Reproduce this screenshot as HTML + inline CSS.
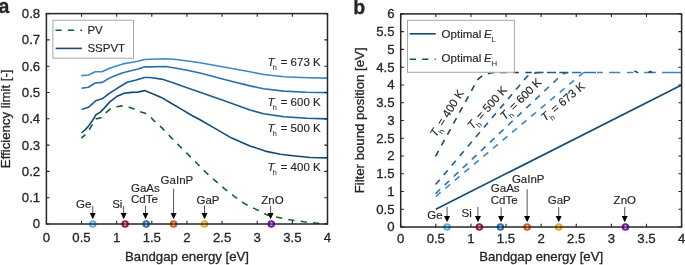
<!DOCTYPE html>
<html><head><meta charset="utf-8"><style>
html,body{margin:0;padding:0;background:#fff;width:685px;height:265px;overflow:hidden}
svg{display:block;will-change:transform}
text{font-family:"Liberation Sans", sans-serif;fill:#262626;stroke:#262626;stroke-width:0.3px}
.s{stroke-width:0.15px}
</style></head><body>
<svg width="685" height="265" viewBox="0 0 685 265">
<rect width="685" height="265" fill="#fff"/>
<path d="M81.40,75.60 L88.40,75.00 L95.20,71.80 L102.40,71.60 L109.70,68.20 L115.00,66.50 L122.90,63.90 L130.90,62.50 L137.70,61.30 L144.50,59.50 L150.00,59.20 L165.80,58.70 L176.40,59.50 L189.60,61.20 L200.00,62.80 L250.00,71.80 L263.60,74.50 L284.00,76.80 L306.70,77.70 L327.50,78.10" stroke="#3d87c6" stroke-width="1.60" fill="none" stroke-linejoin="round"/>
<path d="M81.40,88.30 L88.40,87.20 L95.20,83.00 L102.40,82.40 L109.70,77.90 L115.00,75.80 L122.90,72.70 L130.90,70.70 L138.20,69.00 L144.50,66.70 L150.00,66.90 L165.80,66.50 L176.40,68.20 L189.60,70.80 L200.00,73.00 L226.40,80.00 L250.00,85.90 L263.60,88.80 L284.00,91.10 L306.70,92.20 L327.50,92.60" stroke="#2b70ad" stroke-width="1.60" fill="none" stroke-linejoin="round"/>
<path d="M81.60,109.50 L88.40,107.30 L95.90,100.70 L102.50,98.60 L109.10,93.50 L118.00,87.80 L127.10,82.30 L136.20,80.00 L144.50,77.50 L150.00,77.50 L163.20,79.40 L174.50,83.20 L187.70,87.90 L200.00,92.20 L225.10,101.10 L250.00,110.00 L263.60,113.70 L284.00,116.70 L306.70,118.30 L327.50,118.90" stroke="#1d5b8e" stroke-width="1.60" fill="none" stroke-linejoin="round"/>
<path d="M81.60,133.00 L87.70,127.10 L92.50,120.50 L95.90,114.80 L100.00,112.40 L104.50,107.90 L109.80,101.90 L116.60,96.60 L124.10,93.30 L131.70,92.40 L137.70,92.10 L144.50,90.60 L151.30,93.30 L161.30,97.40 L170.80,103.00 L182.10,109.60 L191.50,115.30 L200.00,119.80 L215.80,128.90 L231.70,138.10 L250.00,145.90 L265.10,151.10 L280.20,154.20 L295.30,156.00 L310.40,157.50 L327.50,157.90" stroke="#144a72" stroke-width="1.60" fill="none" stroke-linejoin="round"/>
<path d="M81.40,138.10 L85.60,134.30 L89.60,129.00 L92.50,124.20 L95.90,118.90 L101.50,117.60 L106.40,112.30 L110.30,109.00 L115.80,106.80 L122.60,105.90 L128.60,107.10 L134.70,109.40 L140.00,111.70 L145.20,113.20 L150.50,117.00 L153.40,120.20 L161.90,127.85 L170.95,137.40 L179.20,145.75 L188.15,154.50 L196.75,163.20 L205.70,172.25 L215.10,180.60 L224.65,188.90 L234.25,196.30 L244.50,203.65 L256.10,209.35 L266.70,214.85 L278.60,217.50 L291.10,220.00 L303.40,221.70 L315.60,223.10 L327.50,223.70" stroke="#0d6130" stroke-width="1.60" fill="none" stroke-dasharray="6.3 6.15" stroke-dashoffset="1"/>
<text x="267.40" y="66.10" font-size="11.5" font-style="italic" class="s">T</text>
<text x="272.50" y="70.10" font-size="7.8" style="stroke:none">h</text>
<text x="280.70" y="66.10" font-size="11.5" class="s">= 673 K</text>
<text x="267.40" y="106.00" font-size="11.5" font-style="italic" class="s">T</text>
<text x="272.50" y="110.00" font-size="7.8" style="stroke:none">h</text>
<text x="280.70" y="106.00" font-size="11.5" class="s">= 600 K</text>
<text x="267.40" y="132.10" font-size="11.5" font-style="italic" class="s">T</text>
<text x="272.50" y="136.10" font-size="7.8" style="stroke:none">h</text>
<text x="280.70" y="132.10" font-size="11.5" class="s">= 500 K</text>
<text x="267.40" y="171.00" font-size="11.5" font-style="italic" class="s">T</text>
<text x="272.50" y="175.00" font-size="7.8" style="stroke:none">h</text>
<text x="280.70" y="171.00" font-size="11.5" class="s">= 400 K</text>
<path d="M92.78 206.00V213.60" stroke="#1a1a1a" stroke-width="0.75"/>
<path d="M89.78 213.10L95.78 213.10L92.78 219.20Z" fill="#000"/>
<text x="76.00" y="207.80" font-size="11.5" class="s" text-anchor="start">Ge</text>
<path d="M123.70 206.00V213.60" stroke="#1a1a1a" stroke-width="0.75"/>
<path d="M120.70 213.10L126.70 213.10L123.70 219.20Z" fill="#000"/>
<text x="112.20" y="207.80" font-size="11.5" class="s" text-anchor="start">Si</text>
<path d="M145.49 205.80V213.60" stroke="#1a1a1a" stroke-width="0.75"/>
<path d="M142.49 213.10L148.49 213.10L145.49 219.20Z" fill="#000"/>
<text x="131.00" y="192.10" font-size="11.5" class="s" text-anchor="start">GaAs</text>
<text x="131.00" y="203.40" font-size="11.5" class="s" text-anchor="start">CdTe</text>
<path d="M173.60 188.70V213.60" stroke="#1a1a1a" stroke-width="0.75"/>
<path d="M170.60 213.10L176.60 213.10L173.60 219.20Z" fill="#000"/>
<text x="160.60" y="184.00" font-size="11.5" class="s" text-anchor="start">GaInP</text>
<path d="M204.52 205.60V213.60" stroke="#1a1a1a" stroke-width="0.75"/>
<path d="M201.52 213.10L207.52 213.10L204.52 219.20Z" fill="#000"/>
<text x="208.00" y="204.00" font-size="11.5" class="s" text-anchor="middle">GaP</text>
<path d="M270.58 205.80V213.60" stroke="#1a1a1a" stroke-width="0.75"/>
<path d="M267.58 213.10L273.58 213.10L270.58 219.20Z" fill="#000"/>
<text x="272.50" y="203.90" font-size="11.5" class="s" text-anchor="middle">ZnO</text>
<circle cx="92.78" cy="224.00" r="2.7" stroke="#52b6e6" stroke-width="2.1" fill="none"/>
<circle cx="125.11" cy="224.00" r="2.7" stroke="#b3113b" stroke-width="2.1" fill="none"/>
<circle cx="146.19" cy="224.00" r="2.7" stroke="#1a72c2" stroke-width="2.1" fill="none"/>
<circle cx="173.60" cy="224.00" r="2.7" stroke="#e2580e" stroke-width="2.1" fill="none"/>
<circle cx="204.52" cy="224.00" r="2.7" stroke="#efa912" stroke-width="2.1" fill="none"/>
<circle cx="271.28" cy="224.00" r="2.7" stroke="#7b10b5" stroke-width="2.1" fill="none"/>
<rect x="52.9" y="20.2" width="80.6" height="38.0" fill="#fff" stroke="#a8a8a8" stroke-width="1"/>
<path d="M55.4 30.3H82" stroke="#0d6130" stroke-width="1.60" stroke-dasharray="6.3 6.15"/>
<path d="M55.6 48.4H81.9" stroke="#144a72" stroke-width="1.60"/>
<text x="87.4" y="33.9" font-size="11.5" class="s">PV</text>
<text x="87.4" y="52.0" font-size="11.5" class="s">SSPVT</text>
<path d="M46.40 224.00V220.80M46.40 13.60V16.80M81.54 224.00V220.80M81.54 13.60V16.80M116.68 224.00V220.80M116.68 13.60V16.80M151.81 224.00V220.80M151.81 13.60V16.80M186.95 224.00V220.80M186.95 13.60V16.80M222.09 224.00V220.80M222.09 13.60V16.80M257.23 224.00V220.80M257.23 13.60V16.80M292.36 224.00V220.80M292.36 13.60V16.80M327.50 224.00V220.80M327.50 13.60V16.80M46.40 224.00H49.60M327.50 224.00H324.30M46.40 197.70H49.60M327.50 197.70H324.30M46.40 171.40H49.60M327.50 171.40H324.30M46.40 145.10H49.60M327.50 145.10H324.30M46.40 118.80H49.60M327.50 118.80H324.30M46.40 92.50H49.60M327.50 92.50H324.30M46.40 66.20H49.60M327.50 66.20H324.30M46.40 39.90H49.60M327.50 39.90H324.30M46.40 13.60H49.60M327.50 13.60H324.30" stroke="#262626" stroke-width="1.1" fill="none"/>
<rect x="46.40" y="13.60" width="281.10" height="210.40" stroke="#262626" stroke-width="1.5" fill="none"/>
<text x="46.40" y="241.50" text-anchor="middle" font-size="13.2">0</text>
<text x="81.54" y="241.50" text-anchor="middle" font-size="13.2">0.5</text>
<text x="116.68" y="241.50" text-anchor="middle" font-size="13.2">1</text>
<text x="151.81" y="241.50" text-anchor="middle" font-size="13.2">1.5</text>
<text x="186.95" y="241.50" text-anchor="middle" font-size="13.2">2</text>
<text x="222.09" y="241.50" text-anchor="middle" font-size="13.2">2.5</text>
<text x="257.23" y="241.50" text-anchor="middle" font-size="13.2">3</text>
<text x="292.36" y="241.50" text-anchor="middle" font-size="13.2">3.5</text>
<text x="327.50" y="241.50" text-anchor="middle" font-size="13.2">4</text>
<text x="40.20" y="228.40" text-anchor="end" font-size="13.2">0</text>
<text x="40.20" y="202.10" text-anchor="end" font-size="13.2">0.1</text>
<text x="40.20" y="175.80" text-anchor="end" font-size="13.2">0.2</text>
<text x="40.20" y="149.50" text-anchor="end" font-size="13.2">0.3</text>
<text x="40.20" y="123.20" text-anchor="end" font-size="13.2">0.4</text>
<text x="40.20" y="96.90" text-anchor="end" font-size="13.2">0.5</text>
<text x="40.20" y="70.60" text-anchor="end" font-size="13.2">0.6</text>
<text x="40.20" y="44.30" text-anchor="end" font-size="13.2">0.7</text>
<text x="40.20" y="18.00" text-anchor="end" font-size="13.2">0.8</text>
<text transform="translate(9.8,118.8) rotate(-90)" text-anchor="middle" font-size="13.2">Efficiency limit [-]</text>
<text x="187" y="261.2" text-anchor="middle" font-size="13.2">Bandgap energy [eV]</text>
<text x="-1.4" y="12.9" font-size="19.5" font-weight="bold" fill="#000">a</text>
<path d="M435.5,156.4 L476.5,81.6 C479,77 484,73.8 494,72.50" stroke="#144a72" stroke-width="1.60" fill="none" stroke-dasharray="6.3 6.15"/>
<path d="M435.6,184.5 L526,77.7 Q530.4,72.6 541,72.50" stroke="#1d5b8e" stroke-width="1.60" fill="none" stroke-dasharray="6.3 6.15"/>
<path d="M435.6,193.6 L560,76.3 Q563.7,72.6 568.3,72.50" stroke="#2b70ad" stroke-width="1.60" fill="none" stroke-dasharray="6.3 6.15"/>
<path d="M435.8,196.5 L580,75.4 Q583.2,72.6 584,72.50" stroke="#3d87c6" stroke-width="1.60" fill="none" stroke-dasharray="6.3 6.15"/>
<path d="M500.0 72.50H506.9M512.9 72.50H518.9M525.3 72.50H531.7" stroke="#144a72" stroke-width="1.60" fill="none"/>
<path d="M535.0 72.50H543.6M546.9 72.50H556.1M559.3 72.50H568.3" stroke="#1d5b8e" stroke-width="1.60" fill="none"/>
<path d="M571.9 72.50H581.2M583.8 72.50H596.0" stroke="#2b70ad" stroke-width="1.60" fill="none"/>
<path d="M597.0 72.50H602.9M609.1 72.50H620.3M626.9 72.50H633.4M644.0 72.50H656.1M662.1 72.50H681.4" stroke="#3d87c6" stroke-width="1.60" fill="none"/>
<path d="M634.3 70.9L638.1 72.8M648.6 72.6L650.4 71.4L652.4 72.6" stroke="#144a72" stroke-width="1.60" fill="none"/>
<path d="M435.81 209.24L681.60 84.93" stroke="#144a72" stroke-width="1.60"/>
<g transform="translate(435.99,137.71) rotate(-57.60)">
<text x="0" y="0" font-size="11.5" font-style="italic" class="s">T</text>
<text x="6.0" y="4.0" font-size="7.8" style="stroke:none">h</text>
<text x="12.9" y="0" font-size="11.5" class="s">= 400 K</text>
</g>
<g transform="translate(472.61,130.11) rotate(-48.50)">
<text x="0" y="0" font-size="11.5" font-style="italic" class="s">T</text>
<text x="6.0" y="4.0" font-size="7.8" style="stroke:none">h</text>
<text x="12.9" y="0" font-size="11.5" class="s">= 500 K</text>
</g>
<g transform="translate(504.76,120.42) rotate(-44.90)">
<text x="0" y="0" font-size="11.5" font-style="italic" class="s">T</text>
<text x="6.0" y="4.0" font-size="7.8" style="stroke:none">h</text>
<text x="12.9" y="0" font-size="11.5" class="s">= 600 K</text>
</g>
<g transform="translate(545.10,121.68) rotate(-40.05)">
<text x="0" y="0" font-size="11.5" font-style="italic" class="s">T</text>
<text x="6.0" y="4.0" font-size="7.8" style="stroke:none">h</text>
<text x="12.9" y="0" font-size="11.5" class="s">= 673 K</text>
</g>
<path d="M447.05 206.90V216.60" stroke="#1a1a1a" stroke-width="0.75"/>
<path d="M444.05 216.10L450.05 216.10L447.05 222.20Z" fill="#000"/>
<text x="427.20" y="218.80" font-size="11.5" class="s" text-anchor="start">Ge</text>
<path d="M477.95 206.90V216.60" stroke="#1a1a1a" stroke-width="0.75"/>
<path d="M474.95 216.10L480.95 216.10L477.95 222.20Z" fill="#000"/>
<text x="461.60" y="217.10" font-size="11.5" class="s" text-anchor="start">Si</text>
<path d="M501.12 207.30V216.60" stroke="#1a1a1a" stroke-width="0.75"/>
<path d="M498.12 216.10L504.12 216.10L501.12 222.20Z" fill="#000"/>
<text x="490.80" y="191.90" font-size="11.5" class="s" text-anchor="start">GaAs</text>
<text x="490.80" y="203.90" font-size="11.5" class="s" text-anchor="start">CdTe</text>
<path d="M527.11 189.20V216.60" stroke="#1a1a1a" stroke-width="0.75"/>
<path d="M524.11 216.10L530.11 216.10L527.11 222.20Z" fill="#000"/>
<text x="511.90" y="182.90" font-size="11.5" class="s" text-anchor="start">GaInP</text>
<path d="M558.71 207.10V216.60" stroke="#1a1a1a" stroke-width="0.75"/>
<path d="M555.71 216.10L561.71 216.10L558.71 222.20Z" fill="#000"/>
<text x="559.30" y="203.90" font-size="11.5" class="s" text-anchor="middle">GaP</text>
<path d="M624.72 207.10V216.60" stroke="#1a1a1a" stroke-width="0.75"/>
<path d="M621.72 216.10L627.72 216.10L624.72 222.20Z" fill="#000"/>
<text x="624.80" y="203.90" font-size="11.5" class="s" text-anchor="middle">ZnO</text>
<circle cx="447.05" cy="227.00" r="2.7" stroke="#52b6e6" stroke-width="2.1" fill="none"/>
<circle cx="479.35" cy="227.00" r="2.7" stroke="#b3113b" stroke-width="2.1" fill="none"/>
<circle cx="500.42" cy="227.00" r="2.7" stroke="#1a72c2" stroke-width="2.1" fill="none"/>
<circle cx="527.11" cy="227.00" r="2.7" stroke="#e2580e" stroke-width="2.1" fill="none"/>
<circle cx="558.71" cy="227.00" r="2.7" stroke="#efa912" stroke-width="2.1" fill="none"/>
<circle cx="625.42" cy="227.00" r="2.7" stroke="#7b10b5" stroke-width="2.1" fill="none"/>
<rect x="407.5" y="20.3" width="106.9" height="52.0" fill="#fff" stroke="#a8a8a8" stroke-width="1"/>
<path d="M409.7 33.8H435.7" stroke="#144a72" stroke-width="1.60"/>
<path d="M409.7 59.2H435.7" stroke="#144a72" stroke-width="1.60" stroke-dasharray="6.3 6.15"/>
<text x="441.6" y="38.00" font-size="11.5" class="s">Optimal</text>
<text x="484.0" y="38.00" font-size="11.5" class="s" font-style="italic">E</text>
<text x="491.4" y="42.00" font-size="7.8" style="stroke:none">L</text>
<text x="441.6" y="61.70" font-size="11.5" class="s">Optimal</text>
<text x="484.0" y="61.70" font-size="11.5" class="s" font-style="italic">E</text>
<text x="491.4" y="65.70" font-size="7.8" style="stroke:none">H</text>
<path d="M400.70 227.00V223.80M400.70 13.90V17.10M435.81 227.00V223.80M435.81 13.90V17.10M470.93 227.00V223.80M470.93 13.90V17.10M506.04 227.00V223.80M506.04 13.90V17.10M541.15 227.00V223.80M541.15 13.90V17.10M576.26 227.00V223.80M576.26 13.90V17.10M611.38 227.00V223.80M611.38 13.90V17.10M646.49 227.00V223.80M646.49 13.90V17.10M681.60 227.00V223.80M681.60 13.90V17.10M400.70 227.00H403.90M681.60 227.00H678.40M400.70 209.24H403.90M681.60 209.24H678.40M400.70 191.48H403.90M681.60 191.48H678.40M400.70 173.72H403.90M681.60 173.72H678.40M400.70 155.97H403.90M681.60 155.97H678.40M400.70 138.21H403.90M681.60 138.21H678.40M400.70 120.45H403.90M681.60 120.45H678.40M400.70 102.69H403.90M681.60 102.69H678.40M400.70 84.93H403.90M681.60 84.93H678.40M400.70 67.18H403.90M681.60 67.18H678.40M400.70 49.42H403.90M681.60 49.42H678.40M400.70 31.66H403.90M681.60 31.66H678.40M400.70 13.90H403.90M681.60 13.90H678.40" stroke="#262626" stroke-width="1.1" fill="none"/>
<rect x="400.70" y="13.90" width="280.90" height="213.10" stroke="#262626" stroke-width="1.5" fill="none"/>
<text x="400.70" y="242.90" text-anchor="middle" font-size="13.2">0</text>
<text x="435.81" y="242.90" text-anchor="middle" font-size="13.2">0.5</text>
<text x="470.93" y="242.90" text-anchor="middle" font-size="13.2">1</text>
<text x="506.04" y="242.90" text-anchor="middle" font-size="13.2">1.5</text>
<text x="541.15" y="242.90" text-anchor="middle" font-size="13.2">2</text>
<text x="576.26" y="242.90" text-anchor="middle" font-size="13.2">2.5</text>
<text x="611.38" y="242.90" text-anchor="middle" font-size="13.2">3</text>
<text x="646.49" y="242.90" text-anchor="middle" font-size="13.2">3.5</text>
<text x="681.60" y="242.90" text-anchor="middle" font-size="13.2">4</text>
<text x="394.50" y="231.40" text-anchor="end" font-size="13.2">0</text>
<text x="394.50" y="213.64" text-anchor="end" font-size="13.2">0.5</text>
<text x="394.50" y="195.88" text-anchor="end" font-size="13.2">1</text>
<text x="394.50" y="178.12" text-anchor="end" font-size="13.2">1.5</text>
<text x="394.50" y="160.37" text-anchor="end" font-size="13.2">2</text>
<text x="394.50" y="142.61" text-anchor="end" font-size="13.2">2.5</text>
<text x="394.50" y="124.85" text-anchor="end" font-size="13.2">3</text>
<text x="394.50" y="107.09" text-anchor="end" font-size="13.2">3.5</text>
<text x="394.50" y="89.33" text-anchor="end" font-size="13.2">4</text>
<text x="394.50" y="71.58" text-anchor="end" font-size="13.2">4.5</text>
<text x="394.50" y="53.82" text-anchor="end" font-size="13.2">5</text>
<text x="394.50" y="36.06" text-anchor="end" font-size="13.2">5.5</text>
<text x="394.50" y="18.30" text-anchor="end" font-size="13.2">6</text>
<text transform="translate(364.2,120.4) rotate(-90)" text-anchor="middle" font-size="13.2">Filter bound position [eV]</text>
<text x="541.2" y="261.3" text-anchor="middle" font-size="13.2">Bandgap energy [eV]</text>
<text x="353.2" y="13.8" font-size="19.5" font-weight="bold" fill="#000">b</text>
</svg>
</body></html>
